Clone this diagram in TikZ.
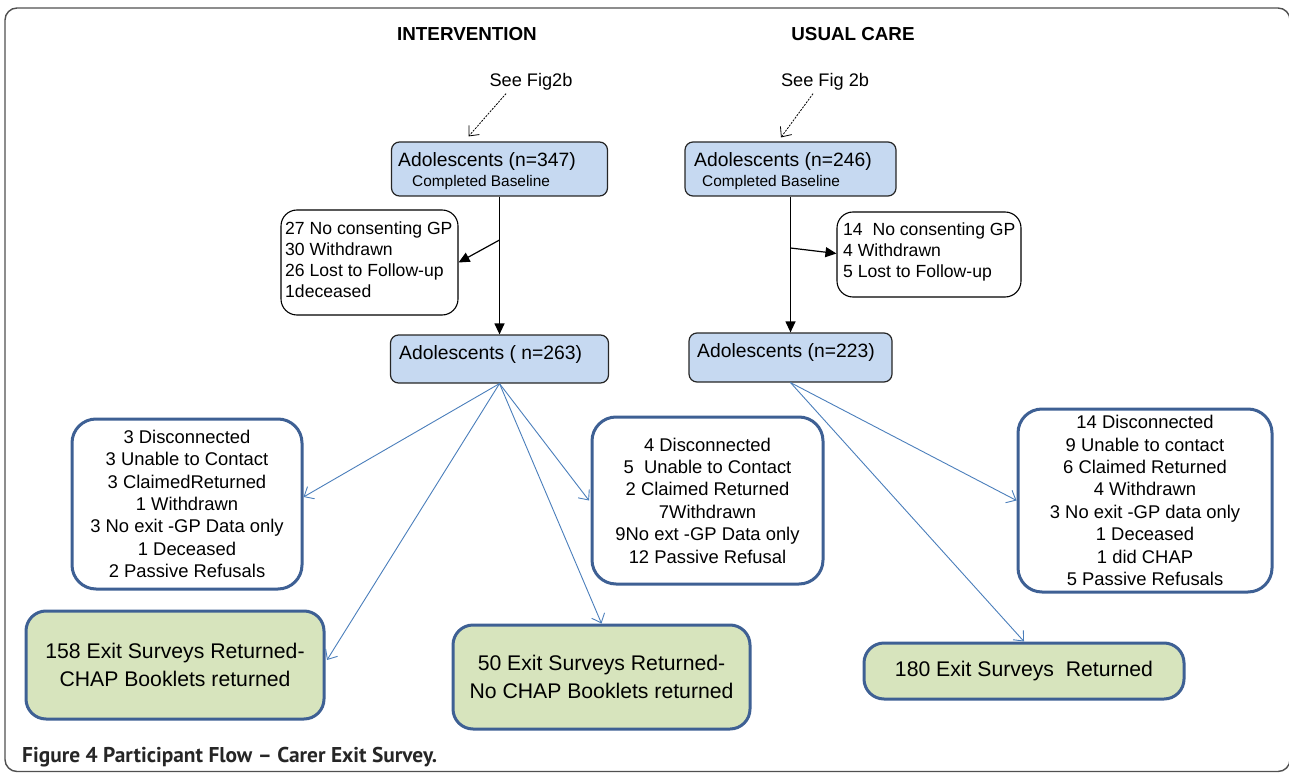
\documentclass[tikz,border=0pt]{standalone}
\usepackage{fontspec}
\setmainfont{Liberation Sans}
\newfontfamily\capfont{PT Sans}
\usetikzlibrary{arrows.meta,calc}
\definecolor{lblue}{RGB}{198,217,241}
\definecolor{lgreen}{RGB}{215,228,189}
\definecolor{bborder}{RGB}{62,96,148}
\definecolor{bline}{RGB}{74,126,187}
\definecolor{frame}{RGB}{80,80,80}
\newcommand{\fs}[2]{\fontsize{#1}{#2}\selectfont}
\tikzset{
  abox/.style={draw=black!85, line width=1.2pt, fill=lblue, rounded corners=8pt, inner sep=0pt},
  sidebox/.style={draw=black, line width=1.1pt, fill=white, rounded corners=16pt, inner sep=0pt},
  outbox/.style={draw=bborder, line width=3pt, fill=white, rounded corners=24pt, inner sep=0pt, align=center, font=\fs{18.4}{22.4}},
  greenbox/.style={draw=bborder, line width=3pt, fill=lgreen, rounded corners=20pt, inner sep=0pt, align=center, font=\fs{21.2}{27.5}},
  blk/.style={draw=black, line width=1.2pt, -{Triangle[length=11pt,width=10pt]}},
  blu/.style={draw=bline, line width=0.9pt, -{Straight Barb[length=8pt,width=14pt,line width=0.9pt]}},
  dsh/.style={draw=black, line width=0.8pt, dash pattern=on 2pt off 1.2pt, -{Straight Barb[length=8pt,width=14pt,line width=0.8pt,line cap=butt]}},
  head/.style={font=\bfseries\fs{18.8}{22}},
  txt/.style={inner sep=0pt},
}
\begin{document}
\begin{tikzpicture}[x=1pt,y=-1pt]
\useasboundingbox (0,0) rectangle (1289,775);
% outer frame
\draw[frame, line width=1.4pt, rounded corners=12pt] (5,8) rectangle (1290,771.5);

% headings
\node[head] (h1) at (467,34) {INTERVENTION};
\node[head] (h2) at (853,34) {USUAL CARE};

% See Fig notes
\node[txt, font=\fs{18.2}{22}] (sf1) at (531,82) {See Fig2b};
\node[txt, font=\fs{18.2}{22}] (sf2) at (825,82) {See Fig 2b};

% top boxes
\node[abox, minimum width=216pt, minimum height=54pt] (a1) at (499.5,169) {};
\node[txt, anchor=west, font=\fs{19.3}{22}] (a1t) at (398,162) {Adolescents (n=347)};
\node[txt, anchor=west, font=\fs{15.4}{18}] (a1s) at (412,182.5) {Completed Baseline};

\node[abox, minimum width=211pt, minimum height=54pt] (a2) at (790.5,169) {};
\node[txt, anchor=west, font=\fs{19.3}{22}] (a2t) at (694,162) {Adolescents (n=246)};
\node[txt, anchor=west, font=\fs{15.4}{18}] (a2s) at (702,182.5) {Completed Baseline};

% side boxes
\node[sidebox, minimum width=177pt, minimum height=105pt] (sl) at (369.5,262.5) {};
\node[txt, anchor=north west, align=left, font=\fs{17.6}{21}] (slt) at (285,222) {27 No consenting GP\\30 Withdrawn\\26 Lost to Follow-up\\1deceased};

\node[sidebox, minimum width=184pt, minimum height=85pt] (sr) at (929,254.5) {};
\node[txt, anchor=north west, align=left, font=\fs{17.6}{21}] (srt) at (843,223) {14\ \ No consenting GP\\4 Withdrawn\\5 Lost to Follow-up};

% second level boxes
\node[abox, minimum width=218pt, minimum height=48pt] (a3) at (499.5,359) {};
\node[txt, anchor=west, font=\fs{19.3}{22}] (a3t) at (399,355) {Adolescents ( n=263)};

\node[abox, minimum width=203pt, minimum height=49pt] (b3) at (790.5,357.5) {};
\node[txt, anchor=west, font=\fs{19.3}{22}] (b3t) at (697,353) {Adolescents (n=223)};

% outcome boxes
\node[outbox, minimum width=230pt, minimum height=170pt] (bl) at (187,504) {3 Disconnected\\3 Unable to Contact\\3 ClaimedReturned\\1 Withdrawn\\3 No exit -GP Data only\\1 Deceased\\2 Passive Refusals};
\node[outbox, minimum width=231pt, minimum height=167pt] (bm) at (707.5,500.5) {4 Disconnected\\5\ \ Unable to Contact\\2 Claimed Returned\\7Withdrawn\\9No ext -GP Data only\\12 Passive Refusal};
\node[outbox, minimum width=254pt, minimum height=183pt] (br) at (1145,500.5) {14 Disconnected\\9 Unable to contact\\6 Claimed Returned\\4 Withdrawn\\3 No exit -GP data only\\1 Deceased\\1 did CHAP\\5 Passive Refusals};

\node[greenbox, minimum width=298pt, minimum height=108pt] (g1) at (175,665) {158 Exit Surveys Returned-\\CHAP Booklets returned};
\node[greenbox, minimum width=297pt, minimum height=104pt] (g2) at (601.5,677) {50 Exit Surveys Returned-\\No CHAP Booklets returned};
\node[greenbox, minimum width=320pt, minimum height=56pt] (g3) at (1024,671) {180 Exit Surveys\ \ Returned};

% caption
\node[txt, anchor=west, font=\capfont\bfseries\fs{21.4}{24}, text=black!85] (cap) at (22,757) {Figure 4 Participant Flow – Carer Exit Survey.};

% connectors
\draw[dsh] ($(sf1.south)+(-25,3)$) -- ($(a1.north)+(-31,-5)$);
\draw[dsh] ($(sf2.south)+(-12,3)$) -- ($(a2.north)+(-9.5,-4)$);

\draw[blk] (a1.south) -- (a3.north);
\draw[blk] (a2.south) -- (b3.north);
\coordinate (j1) at (499.5,240);
\coordinate (j2) at (790.5,248);
\draw[blk] (j1) -- (sl.east);
\draw[blk] (j2) -- ([yshift=1pt]sr.west);

\draw[blu] (a3.south) -- ([yshift=7pt]bl.east);
\draw[blu] (a3.south) -- ([yshift=5pt,xshift=1.5pt]g1.east);
\draw[blu] (a3.south) -- ([xshift=-1.5pt]bm.west);
\draw[blu] (a3.south) -- (g2.north);
\draw[blu] (b3.south) -- (br.west);
\draw[blu] (b3.south) -- (g3.north);
\end{tikzpicture}
\end{document}
